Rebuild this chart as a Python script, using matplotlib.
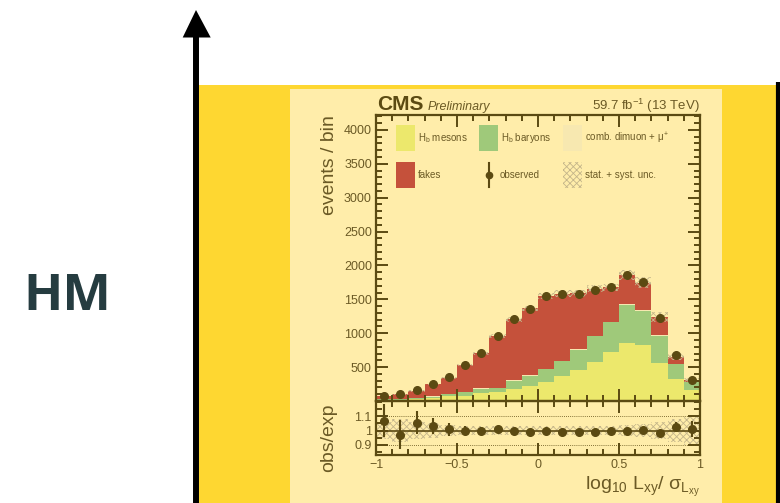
"""
Slide snippet: HM label, arrow and CMS Lxy significance plot
"""
import matplotlib
matplotlib.use('Agg')
import matplotlib.pyplot as plt
import numpy as np
from matplotlib.patches import Rectangle, Polygon
from matplotlib.ticker import MultipleLocator, FixedLocator

plt.rcParams.update({'font.family': ['Liberation Sans', 'DejaVu Sans'],
                     'mathtext.fontset': 'custom',
                     'mathtext.rm': 'Liberation Sans',
                     'mathtext.it': 'Liberation Sans',
                     'mathtext.default': 'regular',
                     'hatch.linewidth': 0.6})

C = {'yellow': '#FED731', 'panel': '#FFEDAA', 'meson': '#ECE86C', 'baryon': '#9FC97A',
     'comb': '#F7E8B0', 'fake': '#C5513B', 'ink': '#5B4A12', 'text': '#6B5A25',
     'hatch': '#C4B58A', 'hm': '#253C40'}

# ---- data ----
bin_edges = np.round(np.arange(-1.0, 1.0001, 0.1), 2)
mesons = [15, 20, 30, 42, 72, 81, 115, 130, 178, 228, 287, 364, 458, 580, 728, 856, 827, 561, 325, 155]
baryons = [10, 10, 12, 22, 32, 50, 65, 62, 122, 146, 180, 221, 299, 374, 432, 564, 505, 402, 221, 128]
comb = [2, 2, 3, 3, 4, 5, 6, 6, 7, 8, 9, 10, 10, 10, 10, 12, 10, 8, 5, 3]
fakes = [49, 67, 102, 179, 236, 389, 521, 755, 896, 984, 1070, 991, 822, 695, 508, 421, 404, 269, 103, 19]
observed = [81, 96, 155, 254, 347, 524, 707, 962, 1203, 1356, 1543, 1572, 1578, 1641, 1675, 1853, 1755, 1223, 672, 308]
unc_rel = [0.06, 0.08, 0.06, 0.05, 0.035, 0.03, 0.03, 0.03, 0.03, 0.03,
           0.03, 0.03, 0.03, 0.03, 0.03, 0.04, 0.045, 0.06, 0.08, 0.1]
ratio = [1.067, 0.970, 1.055, 1.032, 1.010, 0.998, 1.000, 1.009, 1.000, 0.993,
         0.998, 0.991, 0.993, 0.989, 0.998, 1.000, 1.005, 0.986, 1.027, 1.011]
ratio_err = [0.115, 0.10, 0.08, 0.058, 0.045, 0.032, 0.025, 0.02, 0.016, 0.014,
             0.013, 0.013, 0.013, 0.013, 0.013, 0.013, 0.014, 0.016, 0.035, 0.055]

centers = 0.5 * (bin_edges[:-1] + bin_edges[1:])
width = np.diff(bin_edges)

W, H = 780, 503
fig = plt.figure(figsize=(W / 100, H / 100), dpi=100)
fig.patch.set_facecolor('white')

def fr(x0, y0, x1, y1):
    # pixel box (top-left origin) -> figure fraction rect
    return [x0 / W, 1 - y1 / H, (x1 - x0) / W, (y1 - y0) / H]

# ---- slide background ----
bg = fig.add_axes([0, 0, 1, 1], zorder=0)
bg.set_xlim(0, W); bg.set_ylim(H, 0); bg.axis('off')
bg.add_patch(Rectangle((199, 85), 577, 420, color=C['yellow'], lw=0))
bg.add_patch(Rectangle((289.5, 89.3), 432.5, 416, color=C['panel'], lw=0))
bg.plot([778, 778], [82, H + 2], color='black', lw=3.0, solid_capstyle='butt')
bg.plot([196, 196], [H + 2, 36], color='black', lw=4.3, solid_capstyle='butt')
bg.add_patch(Polygon([(182.7, 37.5), (210.7, 37.5), (196, 10)], closed=True, color='black', lw=0))
bg.text(67, 297, 'HM', fontsize=37, fontweight='bold', color=C['hm'],
        family=['Open Sans', 'DejaVu Sans'], ha='center', va='center')

# ---- CMS header ----
bg.text(377, 110, 'CMS', fontsize=15, fontweight='bold', color=C['ink'], ha='left', va='baseline')
bg.text(428, 110, 'Preliminary', fontsize=9, style='italic', color=C['text'], ha='left', va='baseline')
bg.text(700, 110, r'59.7 fb$^{-1}$ (13 TeV)', fontsize=9.5, color=C['text'], ha='right', va='baseline')

# ---- legend ----
def leg_box(x, y, fc, hatch=None):
    if hatch:
        bg.add_patch(Rectangle((x, y), 19, 26, facecolor='none', edgecolor=C['hatch'],
                               hatch=hatch, lw=0))
    else:
        bg.add_patch(Rectangle((x, y), 19, 26, facecolor=fc, lw=0))

LFS = 7
leg_box(396, 125, C['meson'])
bg.text(418, 138, r'H$_b$ mesons', fontsize=LFS, color=C['text'], va='center')
leg_box(479, 125, C['baryon'])
bg.text(501, 138, r'H$_b$ baryons', fontsize=LFS, color=C['text'], va='center')
leg_box(563, 125, C['comb'])
bg.text(585, 138, r'comb. dimuon + $\mu^{+}$', fontsize=LFS, color=C['text'], va='center')
leg_box(396, 162, C['fake'])
bg.text(418, 175, 'fakes', fontsize=LFS, color=C['text'], va='center')
bg.plot([489, 489], [163, 187], color=C['ink'], lw=1.5)
bg.plot([489], [175], 'o', color=C['ink'], ms=4.5)
bg.text(500, 175, 'observed', fontsize=LFS, color=C['text'], va='center')
leg_box(563, 162, None, hatch='xxxxx')
bg.text(585, 175, 'stat. + syst. unc.', fontsize=LFS, color=C['text'], va='center')

# ---- main panel ----
ax = fig.add_axes(fr(376, 115, 700, 401), zorder=2)
ax.set_facecolor('none')
bottom = np.zeros(len(centers))
for vals, key in [(mesons, 'meson'), (baryons, 'baryon'), (comb, 'comb'), (fakes, 'fake')]:
    ax.bar(centers, vals, width=width, bottom=bottom, color=C[key], lw=0, align='center')
    bottom = bottom + np.array(vals)
total = bottom
unc = total * np.array(unc_rel)
ax.bar(centers, 2 * unc, width=width, bottom=total - unc, fill=False,
       edgecolor=C['hatch'], hatch='xxxxx', lw=0)
ax.errorbar(centers, observed, yerr=np.sqrt(observed), fmt='o', color=C['ink'],
            ms=5.5, elinewidth=1.5, capsize=0)
ax.set_xlim(-1, 1)
ax.set_ylim(0, 4220)
ax.yaxis.set_major_locator(FixedLocator([500, 1000, 1500, 2000, 2500, 3000, 3500, 4000]))
ax.yaxis.set_minor_locator(MultipleLocator(100))
ax.xaxis.set_major_locator(MultipleLocator(0.5))
ax.xaxis.set_minor_locator(MultipleLocator(0.1))
ax.tick_params(labelbottom=False)

# ---- ratio panel ----
rx = fig.add_axes(fr(376, 401, 700, 455), zorder=2)
rx.set_facecolor('none')
rx.bar(centers, 2 * np.array(unc_rel), width=width, bottom=1 - np.array(unc_rel), fill=False,
       edgecolor=C['hatch'], hatch='xxxxx', lw=0)
rx.axhline(1.0, color=C['ink'], lw=1.2)
for yl in (0.9, 1.1):
    rx.axhline(yl, color=C['ink'], lw=0.6, ls=(0, (1, 1.5)))
rx.errorbar(centers, ratio, yerr=ratio_err, fmt='o', color=C['ink'], ms=5.5,
            elinewidth=1.5, capsize=0)
rx.set_xlim(-1, 1)
rx.set_ylim(0.83, 1.205)
rx.yaxis.set_major_locator(FixedLocator([0.9, 1.0, 1.1]))
rx.yaxis.set_minor_locator(MultipleLocator(0.05))
rx.xaxis.set_major_locator(MultipleLocator(0.5))
rx.xaxis.set_minor_locator(MultipleLocator(0.1))
rx.set_yticklabels(['0.9', '1', '1.1'])
rx.set_xticks([-1, -0.5, 0, 0.5, 1])
rx.set_xticklabels(['\u22121', '\u22120.5', '0', '0.5', '1'])

for a in (ax, rx):
    for s in a.spines.values():
        s.set_color(C['ink']); s.set_linewidth(1.6)
    a.tick_params(which='both', direction='in', top=True, right=True, color=C['ink'],
                  labelcolor=C['text'], labelsize=9, width=1.4)
    a.tick_params(which='major', length=8.5, pad=3)
    a.tick_params(which='minor', length=4.3)

# ---- axis titles ----
bg.text(329, 115, 'events / bin', rotation=90, fontsize=14, color=C['text'], ha='center', va='top')
bg.text(329, 403, 'obs/exp', rotation=90, fontsize=14, color=C['text'], ha='center', va='top')
bg.text(700, 490, r'log$_{10}$ L$_{xy}$/ $\sigma_{L_{xy}}$', fontsize=14, color=C['text'],
        ha='right', va='baseline')

fig.savefig('out.png', dpi=100, facecolor='white')
